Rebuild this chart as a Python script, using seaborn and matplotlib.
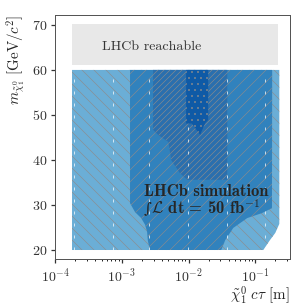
import numpy as np
import seaborn as sns
import matplotlib.pyplot as plt
from matplotlib.patches import Polygon

# region outlines: log10(ctau / m) and mass in GeV/c^2
light_logct = [-3.745, -0.64, -0.64, -0.70, -0.78, -0.88, -3.745]
light_mass = [60, 60, 25.8, 23.8, 22.2, 20, 20]

mid_logct = [-2.876, -2.876, -2.80, -2.71, -2.65, -2.62, -2.61, -2.58,
             -1.51, -1.45, -1.33, -1.12, -0.90, -0.75, -0.747]
mid_mass = [60, 30.4, 28.4, 27.1, 25.6, 24.0, 22.2, 20,
            20, 22.2, 24.9, 27.1, 28.2, 29.3, 60]

dense_logct = [-2.53, -2.53, -2.45, -2.30, -2.26, -2.13, -2.02, -1.42, -1.42]
dense_mass = [60, 46.7, 45.5, 44.0, 40.0, 37.1, 35.6, 35.6, 60]

dots_logct = [-2.036, -2.036, -1.95, -1.826, -1.75, -1.706, -1.706]
dots_mass = [60, 48.1, 48.1, 45.6, 48.2, 48.9, 60]

seam_logct = [-3.715, -3.13, -2.59, -2.006, -1.42, -0.85]

reach_logct = [-3.745, -0.655]
reach_mass = [61.2, 70.3]

sns.set_theme(style="ticks")
plt.rcParams["font.family"] = ["cmr10"]
plt.rcParams["mathtext.fontset"] = "cm"
plt.rcParams["axes.formatter.use_mathtext"] = True
plt.rcParams["hatch.linewidth"] = 0.6
plt.rcParams["hatch.color"] = "#8c8c8c"

fig = plt.figure(figsize=(305 / 72, 305 / 72), dpi=72)
ax = fig.add_axes([0.1803, 0.1508, 0.7705, 0.8])
ax.set_xscale("log")


def region(logct, mass, face, hatch, z):
    xy = np.column_stack([10 ** np.array(logct), mass])
    ax.add_patch(Polygon(xy, closed=True, facecolor=face, edgecolor="#8c8c8c",
                         lw=0, hatch=hatch, zorder=z))


region(light_logct, light_mass, "#6baed6", "\\\\", 1)
region(mid_logct, mid_mass, "#3182bd", "//", 2)
region(dense_logct, dense_mass, "#2a6fae", "////", 3)
ax.vlines(10 ** np.array(seam_logct), 20, 60, colors="white", lw=1,
          linestyles=(0, (3, 9)), alpha=0.7, zorder=3.5)
region(dots_logct, dots_mass, "#0f5aa6", "..", 4)

ax.fill_between(10 ** np.array(reach_logct), reach_mass[0], reach_mass[1],
                color="#e8e8e8", lw=0, zorder=1)
ax.text(5.07e-4, 65.2, "LHCb reachable", fontsize=14, color="#333333",
        va="center", ha="left")

ax.text(2.16e-3, 32.9, "LHCb simulation", fontsize=16.5, family="cmb10",
        va="center", ha="left", zorder=5)
ax.text(2.1e-3, 29.3, "\u222b", fontsize=15, family="DejaVu Serif",
        va="center", ha="left", zorder=5)
ax.annotate(r"$\mathcal{L}$ dt = 50 fb$^{-1}$", xy=(2.1e-3, 29.3),
            xytext=(8, 0), textcoords="offset points", fontsize=16.5,
            family="cmb10", va="center", ha="left", zorder=5)

ax.set_xlim(1e-4, 10 ** -0.48)
ax.set_ylim(18, 72.2)
ax.set_yticks([20, 30, 40, 50, 60, 70])
ax.set_xlabel(r"$\tilde{\chi}_1^0\ c\tau$ [m]", fontsize=15, loc="right",
              labelpad=-1)
ax.set_ylabel(r"$m_{\tilde{\chi}_1^0}$ [GeV/$c^2$]", fontsize=15, loc="top")
ax.tick_params(labelsize=14, length=4, colors="#333333", direction="out")
ax.tick_params(which="minor", length=2)
for s in ax.spines.values():
    s.set_color("#555555")
    s.set_linewidth(1.0)

fig.savefig("out.png", dpi=72)
